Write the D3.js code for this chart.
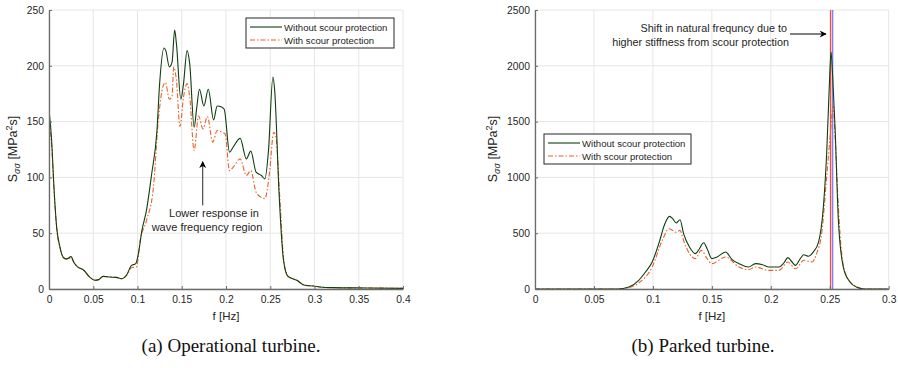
<!DOCTYPE html>
<html>
<head>
<meta charset="utf-8">
<script src="https://cdn.jsdelivr.net/npm/d3@7"></script>
<style>
  body { margin: 0; background: #fff; }
  svg { display: block; }
  .tick text { font-family: "Liberation Sans", Arial, sans-serif; font-size: 10.3px; fill: #262626; }
  .lbl { font-family: "Liberation Sans", Arial, sans-serif; fill: #262626; }
  .cap { font-family: "Liberation Serif", "DejaVu Serif", serif; font-size: 19px; fill: #111; }
</style>
</head>
<body>
<svg width="898" height="368"></svg>
<script>
// (a) operational turbine
var freqA_without = [0, 0.003, 0.0056, 0.0087, 0.0124, 0.016, 0.020, 0.025, 0.028, 0.032, 0.039, 0.046, 0.052, 0.056, 0.061, 0.069, 0.076, 0.082, 0.088, 0.093, 0.098, 0.101, 0.105, 0.110, 0.116, 0.122, 0.125, 0.130, 0.132, 0.136, 0.139, 0.142, 0.144, 0.149, 0.152, 0.156, 0.159, 0.164, 0.167, 0.170, 0.175, 0.180, 0.186, 0.190, 0.195, 0.198, 0.204, 0.208, 0.216, 0.223, 0.228, 0.234, 0.240, 0.244, 0.248, 0.253, 0.255, 0.260, 0.265, 0.270, 0.280, 0.289, 0.299, 0.306, 0.321, 0.359, 0.4];
var specA_without = [160.5, 133, 91, 55, 37.6, 28.6, 27, 29, 24, 20, 17, 10.7, 7.8, 8.4, 11.3, 10.7, 10.4, 9.2, 13, 21, 22.7, 31.6, 52.5, 70, 103, 142, 184, 216, 213.6, 199, 203, 232, 219.6, 170, 184, 213.6, 201.7, 145, 163, 179, 164, 179, 151.5, 164, 163, 161, 122.6, 127, 135, 116.6, 123.5, 104.7, 101.7, 98.7, 124, 190, 178, 85, 25.6, 11.3, 7.8, 3.3, 2.7, 1.8, 1.2, 0.9, 0.6];
var freqA_with = [0, 0.003, 0.0056, 0.0087, 0.0124, 0.016, 0.020, 0.025, 0.028, 0.032, 0.039, 0.046, 0.052, 0.056, 0.061, 0.069, 0.076, 0.082, 0.088, 0.093, 0.099, 0.103, 0.110, 0.118, 0.1235, 0.129, 0.1315, 0.136, 0.139, 0.141, 0.144, 0.148, 0.152, 0.156, 0.159, 0.164, 0.169, 0.174, 0.179, 0.185, 0.190, 0.195, 0.199, 0.204, 0.208, 0.216, 0.223, 0.228, 0.234, 0.240, 0.244, 0.249, 0.254, 0.2565, 0.261, 0.2655, 0.270, 0.280, 0.289, 0.299, 0.306, 0.321, 0.359, 0.4];
var specA_with = [150, 128, 90, 54, 37, 28, 26.5, 28, 24, 20, 17, 10.7, 7.8, 8.4, 11.3, 10.7, 10.4, 9.2, 12.5, 19, 20, 43.5, 61, 91, 151, 182, 185, 170, 173, 199, 187, 145.6, 172, 184, 172, 124, 155, 143.5, 154.5, 131.6, 142, 140.5, 139, 106, 109, 116.6, 101.7, 106, 86.8, 82, 81, 103, 140.5, 136, 79, 24, 11.5, 7.8, 3.3, 2.7, 1.8, 1.2, 0.9, 0.6];

// (b) parked turbine
var freqB_without = [0, 0.04, 0.07, 0.0796, 0.088, 0.0937, 0.0994, 0.105, 0.110, 0.114, 0.117, 0.1197, 0.123, 0.126, 0.131, 0.136, 0.1395, 0.143, 0.146, 0.150, 0.1545, 0.1616, 0.167, 0.173, 0.181, 0.187, 0.193, 0.1983, 0.207, 0.211, 0.2145, 0.218, 0.221, 0.225, 0.228, 0.232, 0.236, 0.2405, 0.2446, 0.2474, 0.2496, 0.2511, 0.2525, 0.2545, 0.2573, 0.2615, 0.267, 0.273, 0.28, 0.3];
var specB_without = [0, 0, 0, 18, 78, 152, 242, 406, 580, 651, 627, 591, 621, 496, 376, 317, 361, 415, 361, 272, 287, 331, 266, 227, 197, 227, 218, 197, 197, 233, 281, 242, 212, 272, 307, 293, 331, 420, 737, 1219, 1813, 2124, 1900, 1450, 618, 197, 65, 15, 0, 0];
var freqB_with = [0, 0.04, 0.07, 0.0796, 0.088, 0.0994, 0.108, 0.1135, 0.117, 0.1197, 0.123, 0.126, 0.131, 0.136, 0.141, 0.146, 0.150, 0.1616, 0.173, 0.181, 0.187, 0.1983, 0.207, 0.2145, 0.221, 0.228, 0.235, 0.239, 0.2432, 0.2474, 0.2508, 0.2528, 0.2545, 0.2573, 0.2601, 0.2643, 0.2729, 0.28, 0.3];
var specB_with = [0, 0, 0, 12, 54, 197, 436, 540, 525, 508, 525, 436, 317, 272, 346, 272, 227, 287, 197, 173, 197, 167, 167, 242, 182, 257, 242, 322, 502, 1006, 1425, 1640, 1365, 737, 322, 110, 20, 0, 0];
var natFreqB = [0.2508, 0.2525]; // without / with scour protection

var xTicksA = [0, 0.05, 0.1, 0.15, 0.2, 0.25, 0.3, 0.35, 0.4];
var yTicksA = [0, 50, 100, 150, 200, 250];
var xTicksB = [0, 0.05, 0.1, 0.15, 0.2, 0.25, 0.3];
var yTicksB = [0, 500, 1000, 1500, 2000, 2500];
var seriesNames = ['Without scour protection', 'With scour protection'];

var GREEN = '#0f3f0f', ORANGE = '#e8632c';

var svg = d3.select('svg');
var defs = svg.append('defs');
defs.append('marker')
  .attr('id', 'arr')
  .attr('viewBox', '0 0 10 10')
  .attr('refX', 9).attr('refY', 5)
  .attr('markerWidth', 10).attr('markerHeight', 7)
  .attr('markerUnits', 'userSpaceOnUse')
  .attr('orient', 'auto')
  .append('path')
  .attr('d', 'M0,0 L10,5 L0,10 L3,5 Z')
  .attr('fill', '#000');

function zip(f, s) {
  return f.map(function(v, i) { return { f: v, s: s[i] }; });
}

function panel(opt) {
  var x = d3.scaleLinear().domain(opt.xDomain).range([opt.left, opt.right]);
  var y = d3.scaleLinear().domain(opt.yDomain).range([289, 10]);
  var g = svg.append('g');

  // grid
  g.selectAll('.gx').data(opt.xTicks).enter().append('line')
    .attr('x1', function(d) { return x(d); }).attr('x2', function(d) { return x(d); })
    .attr('y1', y.range()[0]).attr('y2', y.range()[1])
    .attr('stroke', '#e6e6e6').attr('stroke-width', 1);
  g.selectAll('.gy').data(opt.yTicks).enter().append('line')
    .attr('x1', opt.left).attr('x2', opt.right)
    .attr('y1', function(d) { return y(d); }).attr('y2', function(d) { return y(d); })
    .attr('stroke', '#e6e6e6').attr('stroke-width', 1);

  var clipId = 'clip' + opt.id;
  defs.append('clipPath').attr('id', clipId).append('rect')
    .attr('x', opt.left).attr('y', 10).attr('width', opt.right - opt.left).attr('height', 279);

  var line = d3.line()
    .x(function(d) { return x(d.f); })
    .y(function(d) { return y(d.s); })
    .curve(d3.curveMonotoneX);

  var plot = g.append('g').attr('clip-path', 'url(#' + clipId + ')');

  if (opt.vlines) {
    plot.selectAll('.vl').data(opt.vlines).enter().append('line')
      .attr('x1', function(d) { return x(d); }).attr('x2', function(d) { return x(d); })
      .attr('y1', 289).attr('y2', 10)
      .attr('stroke', function(d, i) { return i === 0 ? '#f03c3c' : '#7474ff'; })
      .attr('stroke-width', 1.2);
  }

  plot.append('path').datum(zip(opt.fWith, opt.sWith))
    .attr('d', line).attr('fill', 'none')
    .attr('stroke', ORANGE).attr('stroke-width', 1.1)
    .attr('stroke-dasharray', '5,2,1.5,2');
  plot.append('path').datum(zip(opt.fWithout, opt.sWithout))
    .attr('d', line).attr('fill', 'none')
    .attr('stroke', GREEN).attr('stroke-width', 1.1);

  // axes
  var xAxis = d3.axisBottom(x).tickValues(opt.xTicks).tickSizeInner(-3).tickSizeOuter(0).tickPadding(7)
    .tickFormat(function(d) { return String(d); });
  var yAxis = d3.axisLeft(y).tickValues(opt.yTicks).tickSizeInner(-3).tickSizeOuter(0).tickPadding(5)
    .tickFormat(function(d) { return String(d); });
  var ax = g.append('g').attr('transform', 'translate(0,289)').call(xAxis);
  var ay = g.append('g').attr('transform', 'translate(' + opt.left + ',0)').call(yAxis);
  [ax, ay].forEach(function(a) {
    a.select('.domain').attr('stroke', '#6b6b6b').attr('stroke-width', 1.3);
    a.selectAll('.tick line').attr('stroke', '#6b6b6b');
  });

  // axis labels
  g.append('text').attr('class', 'lbl')
    .attr('x', (opt.left + opt.right) / 2).attr('y', 320)
    .attr('text-anchor', 'middle').attr('font-size', 11.5)
    .text('f [Hz]');
  var yl = g.append('text').attr('class', 'lbl')
    .attr('transform', 'translate(' + opt.ylabelX + ',149) rotate(-90)')
    .attr('text-anchor', 'middle').attr('font-size', 12.5);
  yl.append('tspan').text('S');
  yl.append('tspan').attr('font-size', 9).attr('font-style', 'italic').attr('dy', 3).text('σσ');
  yl.append('tspan').attr('dy', -3).text(' [MPa');
  yl.append('tspan').attr('font-size', 9).attr('dy', -5).text('2');
  yl.append('tspan').attr('dy', 5).text('s]');

  // legend
  var lg = g.append('g').attr('transform', 'translate(' + opt.legend[0] + ',' + opt.legend[1] + ')');
  lg.append('rect').attr('width', opt.legend[2]).attr('height', 30)
    .attr('fill', '#fff').attr('stroke', '#262626').attr('stroke-width', 1);
  seriesNames.forEach(function(name, i) {
    var yy = 9 + i * 13;
    lg.append('line').attr('x1', 4).attr('x2', 36).attr('y1', yy).attr('y2', yy)
      .attr('stroke', i === 0 ? GREEN : ORANGE).attr('stroke-width', 1.1)
      .attr('stroke-dasharray', i === 0 ? null : '5,2,1.5,2');
    lg.append('text').attr('class', 'lbl').attr('x', 38).attr('y', yy + 3.5)
      .attr('font-size', 9.6).text(name);
  });

  // caption
  g.append('text').attr('class', 'cap')
    .attr('x', opt.capX).attr('y', 352).attr('text-anchor', 'middle')
    .text(opt.caption);

  return { x: x, y: y, g: g };
}

var A = panel({
  id: 'A', left: 49, right: 403, xDomain: [0, 0.4], yDomain: [0, 250],
  xTicks: xTicksA, yTicks: yTicksA,
  fWithout: freqA_without, sWithout: specA_without, fWith: freqA_with, sWith: specA_with,
  ylabelX: 17, legend: [246, 18, 148], capX: 231, caption: '(a) Operational turbine.'
});

var B = panel({
  id: 'B', left: 535, right: 888.7, xDomain: [0, 0.3], yDomain: [0, 2500],
  xTicks: xTicksB, yTicks: yTicksB,
  fWithout: freqB_without, sWithout: specB_without, fWith: freqB_with, sWith: specB_with,
  vlines: natFreqB,
  ylabelX: 497, legend: [544, 134, 147], capX: 703, caption: '(b) Parked turbine.'
});

// annotations
A.g.append('line')
  .attr('x1', A.x(0.1737)).attr('x2', A.x(0.1737))
  .attr('y1', A.y(75)).attr('y2', A.y(114))
  .attr('stroke', '#262626').attr('stroke-width', 1).attr('marker-end', 'url(#arr)');
A.g.append('text').attr('class', 'lbl').attr('font-size', 11).attr('text-anchor', 'middle')
  .attr('x', 214).attr('y', 217).text('Lower response in');
A.g.append('text').attr('class', 'lbl').attr('font-size', 11).attr('text-anchor', 'middle')
  .attr('x', 207).attr('y', 231).text('wave frequency region');

B.g.append('text').attr('class', 'lbl').attr('font-size', 10.8).attr('text-anchor', 'end')
  .attr('x', 787).attr('y', 32).text('Shift in natural frequncy due to');
B.g.append('text').attr('class', 'lbl').attr('font-size', 10.8).attr('text-anchor', 'end')
  .attr('x', 789).attr('y', 46).text('higher stiffness from scour protection');
B.g.append('line')
  .attr('x1', 790).attr('x2', 826).attr('y1', 34).attr('y2', 34)
  .attr('stroke', '#000').attr('stroke-width', 1).attr('marker-end', 'url(#arr)');
</script>
</body>
</html>
